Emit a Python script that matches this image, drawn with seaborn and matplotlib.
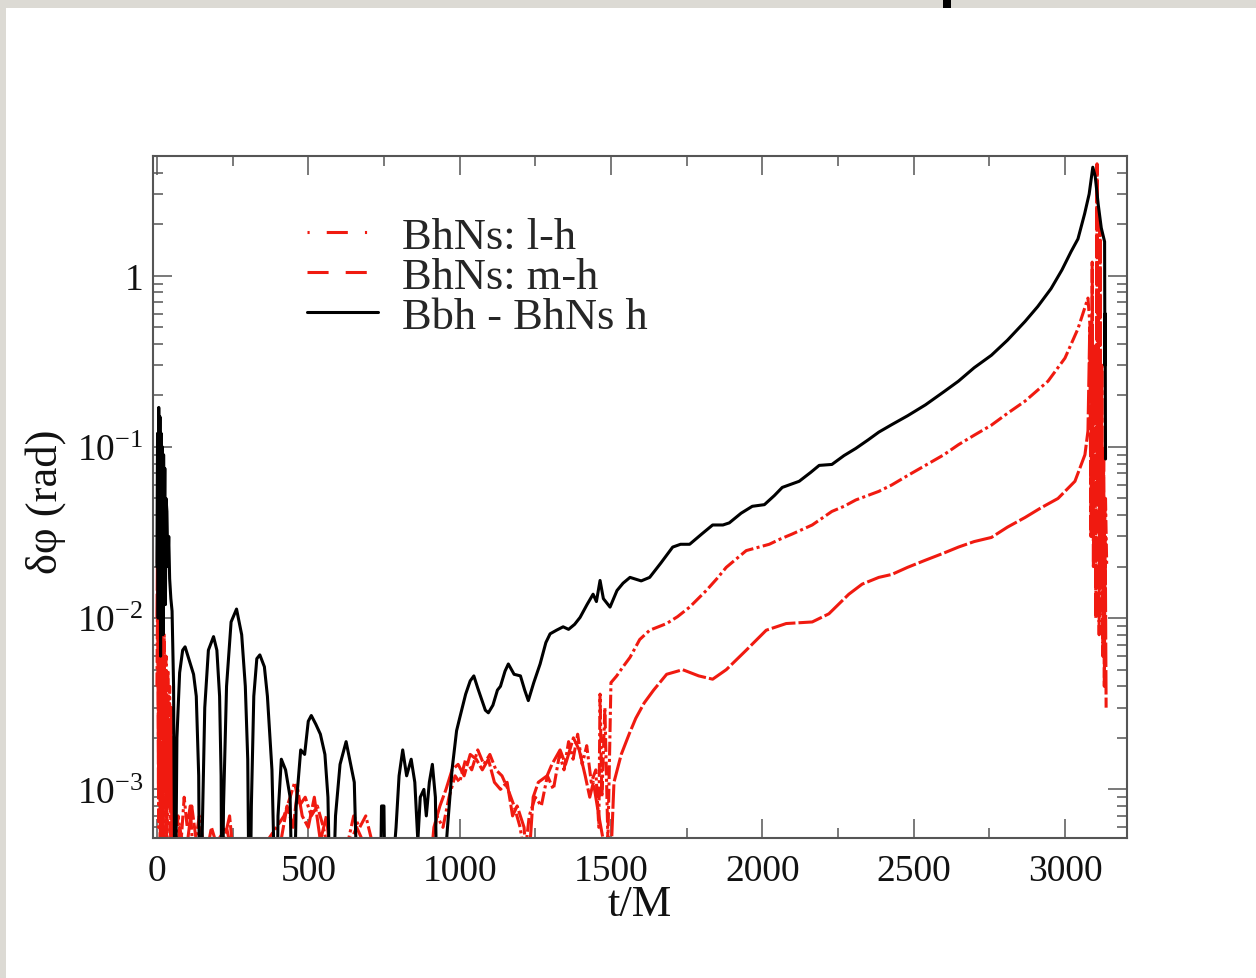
import matplotlib
matplotlib.use("Agg")
import matplotlib.pyplot as plt
import seaborn as sns
import pandas as pd
from matplotlib.lines import Line2D
from matplotlib.patches import Rectangle
from matplotlib.ticker import FixedLocator, MultipleLocator, LogLocator, NullFormatter

# ---------------- data ----------------
series_labels = ["BhNs: l-h", "BhNs: m-h", "Bbh - BhNs h"]
x_label = "t/M"
y_label = "δφ (rad)"
x_ticks = [0, 500, 1000, 1500, 2000, 2500, 3000]
x_tick_labels = ["0", "500", "1000", "1500", "2000", "2500", "3000"]
y_ticks = [1e-3, 1e-2, 1e-1, 1.0]
y_tick_labels = [r"$10^{-3}$", r"$10^{-2}$", r"$10^{-1}$", "1"]

# Bbh - BhNs h  (t/M, delta phi)
bbh_points = [
    (0, 0.02), (2, 0.12), (4, 0.01), (6, 0.17), (8, 0.03), (10, 0.15), (12, 0.006),
    (14, 0.12), (16, 0.02), (18, 0.1), (20, 0.008), (22, 0.09), (24, 0.03), (26, 0.075),
    (28, 0.012), (30, 0.05), (33, 0.042), (36, 0.02), (39, 0.03), (42, 0.017), (46, 0.013),
    (50, 0.011), (55, 0.004), (60, 0.0001),
    (66, 0.002), (75, 0.0048), (85, 0.0065), (93, 0.0068), (105, 0.0058), (121, 0.0047),
    (130, 0.0035), (138, 0.0012), (142, 0.0001),
    (150, 0.0006), (158, 0.003), (170, 0.0065), (187, 0.0078), (198, 0.0065), (207, 0.0035),
    (212, 0.0012), (215, 0.0001),
    (220, 0.0008), (230, 0.004), (245, 0.0095), (263, 0.0113), (280, 0.008), (292, 0.004),
    (300, 0.0015), (306, 0.0001),
    (312, 0.0008), (320, 0.0035), (330, 0.0058), (340, 0.0061), (355, 0.0052), (365, 0.0035),
    (380, 0.0013), (395, 0.0001),
    (400, 0.0007), (411, 0.0015), (425, 0.0013), (440, 0.0009), (450, 0.0001),
    (460, 0.0008), (475, 0.0017), (488, 0.0016), (500, 0.0025), (510, 0.0027), (525, 0.0024),
    (540, 0.0021), (555, 0.0016), (565, 0.0009), (576, 0.0001),
    (590, 0.0007), (605, 0.0014), (625, 0.0019), (640, 0.0014), (652, 0.0011), (668, 0.0001),
    (735, 0.0001), (742, 0.0008), (750, 0.0008), (756, 0.0001),
    (790, 0.0006), (800, 0.0012), (812, 0.0017), (825, 0.0012), (840, 0.0015), (852, 0.0011),
    (862, 0.0005), (870, 0.0009), (882, 0.001), (890, 0.0007), (900, 0.0011), (910, 0.0014),
    (920, 0.0009), (928, 0.0001),
    (960, 0.0006), (975, 0.0013), (990, 0.0022), (1000, 0.0026), (1020, 0.0036), (1035, 0.0043),
    (1047, 0.0046), (1060, 0.0039), (1069, 0.0035), (1085, 0.0029), (1095, 0.0028),
    (1110, 0.0031), (1125, 0.0038), (1135, 0.004), (1150, 0.0049), (1161, 0.0054),
    (1180, 0.0047), (1201, 0.0046), (1215, 0.0038), (1227, 0.0033), (1245, 0.0042),
    (1266, 0.0054), (1285, 0.0072), (1299, 0.0081), (1320, 0.0085), (1342, 0.0089),
    (1360, 0.0086), (1380, 0.0092), (1398, 0.0101), (1421, 0.012), (1441, 0.0138),
    (1452, 0.0125), (1464, 0.0166), (1475, 0.013), (1497, 0.0116), (1520, 0.0145),
    (1540, 0.016), (1563, 0.0173), (1600, 0.0165), (1628, 0.0173), (1665, 0.021),
    (1704, 0.026), (1730, 0.027), (1760, 0.027), (1800, 0.031), (1836, 0.035), (1870, 0.035),
    (1891, 0.036), (1930, 0.041), (1967, 0.045), (2007, 0.046), (2040, 0.052), (2066, 0.058),
    (2100, 0.061), (2122, 0.063), (2160, 0.071), (2188, 0.078), (2230, 0.079), (2270, 0.089),
    (2309, 0.098), (2350, 0.11), (2385, 0.122), (2428, 0.135), (2480, 0.152), (2539, 0.176),
    (2600, 0.21), (2648, 0.242), (2700, 0.29), (2757, 0.343), (2810, 0.42), (2868, 0.54),
    (2910, 0.66), (2954, 0.84), (2990, 1.08), (3020, 1.38), (3043, 1.64), (3065, 2.3),
    (3080, 3.0), (3092, 4.3), (3100, 3.8), (3110, 2.6), (3120, 1.9), (3131, 1.58),
    (3132, 0.3), (3133, 0.6), (3134, 0.085),
]

# BhNs: l-h (dot-dash)
lh_points = [
    (0, 0.004), (3, 0.022), (6, 0.0006), (9, 0.012), (12, 0.0004), (15, 0.009), (18, 0.003),
    (21, 0.0005), (24, 0.008), (27, 0.0015), (30, 0.006), (33, 0.0004), (36, 0.005),
    (39, 0.0012), (42, 0.004), (45, 0.0005), (48, 0.003), (52, 0.0008), (56, 0.002),
    (60, 0.0004), (70, 0.0007), (80, 0.0005), (90, 0.0009), (100, 0.0006), (110, 0.0008),
    (120, 0.0004), (140, 0.0007), (160, 0.0004), (200, 0.0005), (230, 0.0006), (250, 0.0004),
    (280, 0.0003), (420, 0.0007), (440, 0.0009), (455, 0.0011), (470, 0.0008), (490, 0.0009),
    (510, 0.0007), (530, 0.0008), (550, 0.0006), (570, 0.0004), (620, 0.0004), (650, 0.0007),
    (670, 0.0006), (690, 0.0007), (710, 0.0005), (730, 0.0003), (905, 0.0004), (925, 0.0007),
    (945, 0.0006), (965, 0.0009), (985, 0.0012), (1000, 0.0011), (1020, 0.0015),
    (1040, 0.0013), (1060, 0.0017), (1080, 0.0014), (1100, 0.0016), (1120, 0.0013),
    (1140, 0.0012), (1160, 0.001), (1180, 0.0008), (1200, 0.0006), (1215, 0.0004),
    (1230, 0.0007), (1250, 0.0009), (1270, 0.0008), (1290, 0.0012), (1310, 0.001),
    (1330, 0.0016), (1345, 0.0013), (1360, 0.0019), (1375, 0.0015), (1390, 0.0021),
    (1405, 0.0014), (1420, 0.0018), (1435, 0.0011), (1450, 0.0013), (1460, 0.0006),
    (1464, 0.0036), (1470, 0.0009), (1480, 0.003), (1490, 0.0005), (1500, 0.0042),
    (1519, 0.0046), (1540, 0.0052), (1563, 0.0059), (1595, 0.0075), (1628, 0.0085),
    (1684, 0.0093), (1720, 0.0102), (1760, 0.0116), (1815, 0.0145), (1850, 0.017),
    (1881, 0.0198), (1947, 0.0248), (2023, 0.027), (2060, 0.029), (2099, 0.031),
    (2165, 0.035), (2230, 0.042), (2270, 0.045), (2309, 0.049), (2385, 0.055), (2428, 0.06),
    (2480, 0.068), (2539, 0.078), (2600, 0.09), (2648, 0.103), (2700, 0.117), (2757, 0.134),
    (2810, 0.157), (2868, 0.185), (2944, 0.242), (3000, 0.33), (3043, 0.49), (3076, 0.74),
    (3085, 0.45), (3090, 0.25), (3094, 0.4), (3098, 0.18), (3102, 0.3), (3106, 0.12),
    (3110, 0.22), (3114, 0.08), (3118, 0.14), (3122, 0.05), (3126, 0.09), (3130, 0.03),
    (3134, 0.05), (3138, 0.02),
]

# BhNs: m-h (dashed)
mh_points = [
    (0, 0.01), (2, 0.028), (5, 0.001), (8, 0.015), (11, 0.0005), (14, 0.007), (17, 0.002),
    (20, 0.0004), (23, 0.006), (26, 0.001), (29, 0.004), (32, 0.0005), (35, 0.003),
    (40, 0.0008), (45, 0.002), (50, 0.0005), (55, 0.0012), (60, 0.0003), (75, 0.0006),
    (95, 0.0004), (115, 0.0008), (130, 0.0005), (150, 0.0003), (180, 0.0006), (210, 0.0004),
    (240, 0.0007), (260, 0.0003), (400, 0.0004), (430, 0.0008), (450, 0.0006), (465, 0.001),
    (480, 0.0007), (500, 0.0006), (520, 0.0009), (540, 0.0005), (560, 0.0007), (580, 0.0003),
    (640, 0.0005), (660, 0.0006), (680, 0.0005), (700, 0.0004), (900, 0.0003), (915, 0.0006),
    (935, 0.0008), (955, 0.001), (975, 0.0013), (995, 0.0014), (1015, 0.0012), (1035, 0.0016),
    (1055, 0.0015), (1075, 0.0013), (1095, 0.0015), (1115, 0.0011), (1135, 0.001),
    (1157, 0.0011), (1175, 0.0007), (1190, 0.0008), (1213, 0.0006), (1225, 0.0003),
    (1243, 0.0009), (1260, 0.0011), (1289, 0.0012), (1305, 0.0014), (1332, 0.0017),
    (1350, 0.0014), (1376, 0.002), (1395, 0.0017), (1415, 0.0012), (1430, 0.0009),
    (1442, 0.0011), (1460, 0.0007), (1475, 0.0005), (1490, 0.0003), (1500, 0.0004),
    (1510, 0.0011), (1534, 0.0016), (1560, 0.0021), (1582, 0.0026), (1610, 0.0032),
    (1641, 0.0038), (1684, 0.0047), (1737, 0.005), (1790, 0.0046), (1836, 0.0044),
    (1881, 0.005), (1947, 0.0065), (2013, 0.0085), (2079, 0.0093), (2165, 0.0095),
    (2220, 0.0106), (2286, 0.0138), (2330, 0.0158), (2385, 0.0173), (2428, 0.018),
    (2480, 0.0198), (2539, 0.0218), (2600, 0.024), (2648, 0.026), (2700, 0.028),
    (2757, 0.0296), (2810, 0.034), (2868, 0.0387), (2920, 0.044), (2977, 0.05),
    (3033, 0.063), (3066, 0.09), (3076, 0.124), (3082, 0.5), (3086, 0.03), (3090, 1.2),
    (3094, 0.02), (3098, 0.4), (3102, 0.01), (3106, 4.5), (3108, 0.05), (3110, 0.8),
    (3113, 0.008), (3116, 2.0), (3119, 0.015), (3122, 0.3), (3125, 0.006), (3128, 0.1),
    (3130, 0.004), (3133, 0.03), (3136, 0.003),
]

# ---------------- style ----------------
sns.set_theme(style="white")
plt.rcParams["font.family"] = ["Liberation Serif", "DejaVu Serif"]
plt.rcParams["mathtext.fontset"] = "custom"
plt.rcParams["mathtext.rm"] = "Liberation Serif"
plt.rcParams["mathtext.it"] = "Liberation Serif:italic"
plt.rcParams["mathtext.bf"] = "Liberation Serif:bold"

RED = "#f01a10"
SPINE = "#555555"
LW = 2.2

fig = plt.figure(figsize=(12.56, 9.79), dpi=100)
fig.patch.set_facecolor("#dcdad4")
fig.add_artist(Rectangle((6 / 1256, 0), 1, (979 - 9) / 979, transform=fig.transFigure,
                         facecolor="white", edgecolor="none", zorder=-5))
fig.add_artist(Rectangle((943 / 1256, (979 - 9) / 979), 8 / 1256, 9 / 979,
                         transform=fig.transFigure, facecolor="black", edgecolor="none",
                         zorder=-4))

ax = fig.add_axes([153 / 1256, 1 - 839 / 979, (1127 - 153) / 1256, (839 - 157) / 979])
ax.set_facecolor("white")
ax.set_yscale("log")


def to_df(points):
    return pd.DataFrame(points, columns=["t", "dphi"])


df_lh = to_df(lh_points)
df_mh = to_df(mh_points)
df_bbh = to_df(bbh_points)

sns.lineplot(data=df_mh, x="t", y="dphi", ax=ax, estimator=None, sort=False, color=RED,
             linewidth=LW, linestyle=(0, (8, 1.0)), legend=False)
sns.lineplot(data=df_lh, x="t", y="dphi", ax=ax, estimator=None, sort=False, color=RED,
             linewidth=LW, linestyle=(0, (4.5, 1.1, 1, 1.1)), legend=False)
sns.lineplot(data=df_bbh, x="t", y="dphi", ax=ax, estimator=None, sort=False, color="black",
             linewidth=LW, legend=False)

ax.set_xlim(-13, 3205)
ax.set_ylim(5.2e-4, 5.0)

ax.xaxis.set_major_locator(FixedLocator(x_ticks))
ax.set_xticklabels(x_tick_labels)
ax.xaxis.set_minor_locator(MultipleLocator(250))
ax.yaxis.set_major_locator(FixedLocator(y_ticks))
ax.set_yticklabels(y_tick_labels)
ax.yaxis.set_minor_locator(LogLocator(base=10, subs=[2, 3, 4, 5, 6, 7, 8, 9]))
ax.yaxis.set_minor_formatter(NullFormatter())

ax.tick_params(which="both", direction="in", top=True, right=True, bottom=True, left=True,
               color=SPINE, width=1.1)
ax.tick_params(which="major", length=14)
ax.tick_params(which="minor", length=7)
ax.tick_params(axis="x", which="major", labelsize=27, pad=11, labelcolor="#111111")
ax.tick_params(axis="y", which="major", labelsize=27, pad=7, labelcolor="#111111")

for sp in ax.spines.values():
    sp.set_color(SPINE)
    sp.set_linewidth(1.5)

ax.set_xlabel(x_label, fontsize=32, color="#111111")
ax.set_ylabel(y_label, fontsize=32, color="#111111")
ax.xaxis.set_label_coords(0.5, -0.068)
ax.xaxis.label.set_va("top")
ax.yaxis.set_label_coords(-0.089, 0.494)

handles = [
    Line2D([], [], color=RED, linewidth=LW, linestyle=(0, (0.7, 5.6, 6.9, 5.6))),
    Line2D([], [], color=RED, linewidth=LW, linestyle=(0, (6.9, 5.6))),
    Line2D([], [], color="black", linewidth=LW),
]
ax.legend(handles, series_labels, loc="upper left", bbox_to_anchor=(0.158, 0.911),
          frameon=False, fontsize=32, handlelength=1.6, handletextpad=0.54,
          labelspacing=0.0, borderpad=0, borderaxespad=0)

fig.savefig("out.png", dpi=100, facecolor=fig.get_facecolor())
